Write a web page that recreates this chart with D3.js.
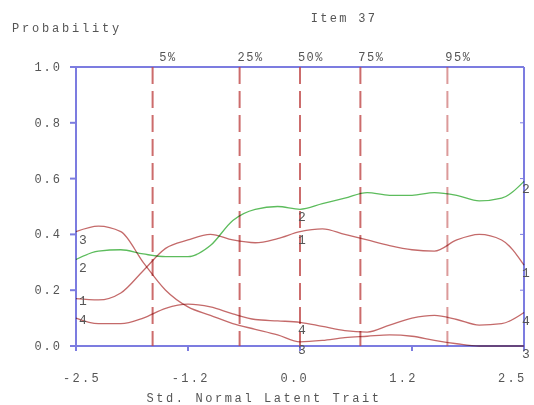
<!DOCTYPE html>
<html lang="en">
<head>
<meta charset="UTF-8">
<title>Item 37</title>
<script src="https://d3js.org/d3.v7.min.js"></script>
<style>
  body { margin: 0; background: #fff; }
  text { font-family: "Liberation Mono", "DejaVu Sans Mono", monospace; fill: #555; }
  .curve { mix-blend-mode: multiply; }
</style>
</head>
<body>
<div id="chart"></div>
<script>
// theta grid (std. normal latent trait)
const theta = [-2.5, -2.25, -2.0, -1.75, -1.5, -1.25, -1.0, -0.75, -0.5, -0.25, 0,
               0.25, 0.5, 0.75, 1.0, 1.25, 1.5, 1.75, 2.0, 2.25, 2.5];
// category probability curves
const cat1 = [0.17, 0.165, 0.19, 0.27, 0.35, 0.38, 0.40, 0.38, 0.37, 0.385, 0.41,
              0.42, 0.40, 0.38, 0.36, 0.345, 0.34, 0.38, 0.40, 0.38, 0.29];
const cat2 = [0.31, 0.34, 0.345, 0.33, 0.32, 0.32, 0.36, 0.45, 0.49, 0.50, 0.49,
              0.51, 0.53, 0.55, 0.54, 0.54, 0.55, 0.54, 0.52, 0.53, 0.59];
const cat3 = [0.41, 0.43, 0.41, 0.30, 0.20, 0.14, 0.11, 0.08, 0.06, 0.04, 0.015,
              0.02, 0.03, 0.035, 0.04, 0.035, 0.02, 0.008, 0.0, 0.0, 0.0];
const cat4 = [0.10, 0.08, 0.08, 0.10, 0.135, 0.15, 0.14, 0.115, 0.095, 0.09, 0.085,
              0.07, 0.055, 0.05, 0.075, 0.10, 0.11, 0.095, 0.075, 0.08, 0.12];
const seriesNames = ["1", "2", "3", "4"];
const seriesColors = ["#c46a6a", "#5cbc5c", "#c46a6a", "#c46a6a"];
// percentile markers
const pctLabels = ["5%", "25%", "50%", "75%", "95%"];
const pctValues = [-1.645, -0.674, 0, 0.674, 1.645];
const xTickValues = [-2.5, -1.25, 0, 1.25, 2.5];
const xTickLabels = ["-2.5", "-1.2", "0.0", "1.2", "2.5"];
const yTickValues = [0, 0.2, 0.4, 0.6, 0.8, 1.0];

const W = 534, H = 405;
const margin = {left: 76, right: 10, top: 67, bottom: 59};

const svg = d3.select('#chart').append('svg')
  .attr('width', W).attr('height', H);

const x = d3.scaleLinear().domain([-2.5, 2.5]).range([margin.left, W - margin.right]);
const y = d3.scaleLinear().domain([0, 1]).range([H - margin.bottom, margin.top]);

const axisColor = "#7c7ce0";

// frame
svg.append('line').attr('x1', x(-2.5)).attr('x2', x(2.5)).attr('y1', y(1)).attr('y2', y(1))
  .attr('stroke', axisColor).attr('stroke-width', 2);
svg.append('line').attr('x1', x(-2.5) - 5).attr('x2', x(2.5)).attr('y1', y(0)).attr('y2', y(0))
  .attr('stroke', axisColor).attr('stroke-width', 2);
svg.append('line').attr('x1', x(-2.5)).attr('x2', x(-2.5)).attr('y1', y(1)).attr('y2', y(0) + 5)
  .attr('stroke', axisColor).attr('stroke-width', 2);
svg.append('line').attr('x1', x(2.5)).attr('x2', x(2.5)).attr('y1', y(1)).attr('y2', y(0))
  .attr('stroke', axisColor).attr('stroke-width', 2);

// left ticks + labels
yTickValues.forEach(v => {
  svg.append('line').attr('x1', x(-2.5) - 6).attr('x2', x(-2.5)).attr('y1', y(v)).attr('y2', y(v))
    .attr('stroke', axisColor).attr('stroke-width', 2);
  svg.append('line').attr('x1', x(2.5) - 4).attr('x2', x(2.5)).attr('y1', y(v)).attr('y2', y(v))
    .attr('stroke', axisColor).attr('stroke-width', 1);
  svg.append('text').attr('x', 62).attr('y', y(v) + 4)
    .attr('text-anchor', 'end').attr('font-size', '12px').attr('letter-spacing', '2px')
    .text(v.toFixed(1));
});

// bottom ticks + labels
const labelX = d3.scaleLinear().domain([-2.5, 2.5]).range([63, 498]);
xTickValues.forEach((v, i) => {
  svg.append('line').attr('x1', x(v)).attr('x2', x(v)).attr('y1', y(0)).attr('y2', y(0) + 5)
    .attr('stroke', axisColor).attr('stroke-width', 2);
  svg.append('text').attr('x', labelX(v)).attr('y', 382)
    .attr('font-size', '12px').attr('letter-spacing', '2.3px')
    .text(xTickLabels[i]);
});

// percentile dashed lines
pctValues.forEach((v, i) => {
  svg.append('line').attr('x1', x(v)).attr('x2', x(v)).attr('y1', y(1)).attr('y2', y(0))
    .attr('stroke', '#c04848').attr('stroke-width', 2).attr('stroke-dasharray', '17,7')
    .attr('opacity', i === 4 ? 0.55 : 0.8);
  svg.append('text').attr('x', x(v) + 24).attr('y', 61)
    .attr('text-anchor', 'end').attr('font-size', '12px').attr('letter-spacing', '1.5px')
    .text(pctLabels[i]);
});

// curves
const allSeries = [cat1, cat2, cat3, cat4];
const line = d3.line()
  .x((d, i) => x(theta[i]))
  .y(d => y(d))
  .curve(d3.curveMonotoneX);

allSeries.forEach((s, k) => {
  svg.append('path').attr('class', 'curve')
    .attr('d', line(s))
    .attr('fill', 'none')
    .attr('stroke', seriesColors[k])
    .attr('stroke-width', 1.3);
});

// curve number labels at left, middle and right
const labelIdx = [0, 10, 20];
const labelDx = [3, 2, 2];
const leftDy = [6, 12, 12, 6];
allSeries.forEach((s, k) => {
  labelIdx.forEach((idx, j) => {
    svg.append('text')
      .attr('x', x(theta[idx]) + labelDx[j])
      .attr('y', y(s[idx]) + (j === 0 ? leftDy[k] : 12))
      .attr('text-anchor', j === 0 ? 'start' : 'middle')
      .attr('font-size', '13px').attr('fill', '#333')
      .text(seriesNames[k]);
  });
});

// titles
svg.append('text').attr('x', 12).attr('y', 32)
  .attr('font-size', '12px').attr('letter-spacing', '2.8px').text('Probability');
svg.append('text').attr('x', 344).attr('y', 22).attr('text-anchor', 'middle')
  .attr('font-size', '12px').attr('letter-spacing', '2.3px').text('Item 37');
svg.append('text').attr('x', 264).attr('y', 402).attr('text-anchor', 'middle')
  .attr('font-size', '12px').attr('letter-spacing', '2.6px').text('Std. Normal Latent Trait');
</script>
</body>
</html>
